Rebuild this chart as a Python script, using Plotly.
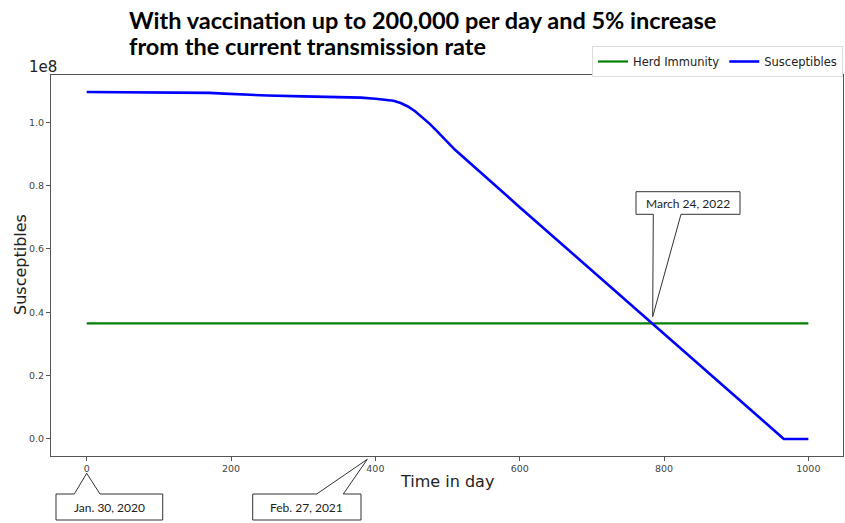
import plotly.graph_objects as go

# ---------------- data ----------------
days = [0, 50, 100, 150, 170, 190, 210, 230, 250, 300, 350, 380, 400, 415,
        425, 435, 445, 455, 465, 475, 485, 495, 510, 600, 700, 800, 900, 966,
        1000]
susceptibles = [1.0957e8, 1.0955e8, 1.0950e8, 1.0940e8, 1.0930e8, 1.0905e8,
                1.0880e8, 1.0860e8, 1.0845e8, 1.0820e8, 1.0800e8, 1.0780e8,
                1.0745e8, 1.0720e8, 1.0680e8, 1.0610e8, 1.0500e8, 1.0350e8,
                1.0170e8, 0.9960e8, 0.9730e8, 0.9500e8, 0.9140e8, 0.7320e8,
                0.5320e8, 0.3320e8, 0.1320e8, 0.0, 0.0]
herd_days = [0, 1000]
herd_immunity = [0.3653e8, 0.3653e8]

x_tickvals = [0, 200, 400, 600, 800, 1000]
x_ticktext = ["0", "200", "400", "600", "800", "1000"]
y_tickvals = [0.0, 0.2e8, 0.4e8, 0.6e8, 0.8e8, 1.0e8]
y_ticktext = ["0.0", "0.2", "0.4", "0.6", "0.8", "1.0"]

title_lines = ["With vaccination up to 200,000 per day and 5% increase",
               "from the current transmission rate"]
callout_texts = ["Jan. 30, 2020", "Feb. 27, 2021", "March 24, 2022"]

# ---------------- layout geometry ----------------
W, H = 845, 523
ML, MR, MT, MB = 51, 2, 75, 67
PL, PR, PT, PB = ML, W - MR, MT, H - MB


def px(x):
    return (x - PL) / (PR - PL)


def py(y):
    return (PB - y) / (PB - PT)


def path(points):
    return "M " + " L ".join(f"{px(a):.5f},{py(b):.5f}" for a, b in points) + " Z"


fig = go.Figure()
fig.add_trace(go.Scatter(x=herd_days, y=herd_immunity, mode="lines",
                         name="Herd Immunity",
                         line=dict(color="#008000", width=2.2)))
fig.add_trace(go.Scatter(x=days, y=susceptibles, mode="lines",
                         name="Susceptibles",
                         line=dict(color="#0000ff", width=2.6)))

axis_common = dict(showgrid=False, zeroline=False, showline=True, mirror=True,
                   linecolor="#555", linewidth=1, ticks="outside", ticklen=4,
                   tickcolor="#555",
                   tickfont=dict(family="DejaVu Sans", size=9.5, color="#444"))

fig.update_xaxes(range=[-49.5, 1048], tickvals=x_tickvals, ticktext=x_ticktext,
                 **axis_common)
fig.update_yaxes(range=[-0.0537e8, 1.1494e8], tickvals=y_tickvals,
                 ticktext=y_ticktext, **axis_common)

shapes = []
boxes = [
    [(56, 494), (74.3, 494), (86.7, 473.3), (100, 494), (162.7, 494),
     (162.7, 520), (56, 520)],
    [(252.7, 494), (316.7, 494), (367.3, 459.3), (343.3, 494), (361, 494),
     (361, 520), (252.7, 520)],
    [(636, 191.7), (740, 191.7), (740, 214.3), (681, 214.3), (652.7, 316.7),
     (653.3, 214.3), (636, 214.3)],
]
for b in boxes:
    shapes.append(dict(type="path", xref="paper", yref="paper", path=path(b),
                       fillcolor="white", line=dict(color="#333", width=1),
                       layer="above"))

annotations = []
centers = [((56 + 162.7) / 2, 507), ((252.7 + 361) / 2, 507),
           ((636 + 740) / 2, 203)]
for t, (cx, cy) in zip(callout_texts, centers):
    annotations.append(dict(text=t, x=px(cx), y=py(cy), xref="paper",
                            yref="paper", showarrow=False, xanchor="center",
                            yanchor="middle",
                            font=dict(family="Lato", size=12, color="#222")))

for t, cy in zip(title_lines, [20, 46]):
    annotations.append(dict(text=f"<b>{t}</b>", x=px(127), y=py(cy),
                            xref="paper", yref="paper", showarrow=False,
                            xanchor="left", yanchor="middle",
                            font=dict(family="Lato", size=23.5, color="black")))

annotations.append(dict(text="1e8", x=px(27), y=py(67), xref="paper",
                        yref="paper", showarrow=False, xanchor="left",
                        yanchor="middle",
                        font=dict(family="DejaVu Sans", size=15, color="#222")))
annotations.append(dict(text="Time in day", x=px(447), y=py(481), xref="paper",
                        yref="paper", showarrow=False, xanchor="center",
                        yanchor="middle",
                        font=dict(family="DejaVu Sans", size=16, color="#222")))
annotations.append(dict(text="Susceptibles", x=px(20), y=py(265),
                        xref="paper", yref="paper", showarrow=False,
                        xanchor="center", yanchor="middle", textangle=-90,
                        font=dict(family="DejaVu Sans", size=16, color="#222")))

fig.update_layout(
    width=W, height=H,
    margin=dict(l=ML, r=MR, t=MT, b=MB, autoexpand=False),
    paper_bgcolor="white", plot_bgcolor="white",
    showlegend=True,
    legend=dict(orientation="h", x=1, xanchor="right", y=py(46),
                yanchor="top", bgcolor="white", bordercolor="#ddd",
                borderwidth=1, itemwidth=30,
                font=dict(family="DejaVu Sans", size=11.5, color="#222")),
    shapes=shapes,
    annotations=annotations,
)

fig.write_html("out.html", config={"displayModeBar": False},
               post_script="document.body.style.margin='0';"
                           "document.body.style.overflow='hidden';")
